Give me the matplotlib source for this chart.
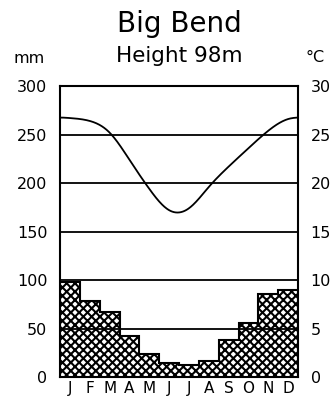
import numpy as np
import matplotlib
matplotlib.use("Agg")
import matplotlib.pyplot as plt

months = ["J", "F", "M", "A", "M", "J", "J", "A", "S", "O", "N", "D"]
precip_mm = [98, 78, 67, 42, 24, 14, 12, 17, 38, 56, 86, 90]
temp_c = [26.7, 26.4, 25.2, 22.4, 19.4, 17.2, 17.4, 19.6, 21.7, 23.6, 25.4, 26.6]
left_ticks = [0, 50, 100, 150, 200, 250, 300]
right_ticks = [0, 5, 10, 15, 20, 25, 30]
title = "Big Bend"
subtitle = "Height 98m"

plt.rcParams["font.family"] = ["DejaVu Sans"]
plt.rcParams["hatch.linewidth"] = 1.5

fig = plt.figure(figsize=(3.35, 4.03), dpi=100)
ax = fig.add_axes([0.179, 0.0645, 0.711, 0.722])

x = np.arange(12) + 0.5
edges = np.arange(13)
# precipitation as stepped, textured area
ax.stairs(precip_mm, edges, baseline=0, fill=True, facecolor="white",
          edgecolor="black", hatch="xxxx", linewidth=0, zorder=2)
ax.stairs(precip_mm, edges, baseline=0, fill=False, color="black",
          linewidth=1.5, zorder=3)

# gridlines
for v in left_ticks[1:-1]:
    ax.axhline(v, color="black", lw=1.3, zorder=4)

# periodic cubic spline through monthly temperatures (scaled 1 C = 10 mm)
def periodic_spline(xs, ys, xq, period):
    n = len(xs)
    h = period / n
    A = np.zeros((n, n))
    rhs = np.zeros(n)
    for i in range(n):
        A[i, (i - 1) % n] = h
        A[i, i] = 4 * h
        A[i, (i + 1) % n] = h
        rhs[i] = 6 * (ys[(i + 1) % n] - 2 * ys[i] + ys[(i - 1) % n]) / h
    M = np.linalg.solve(A, rhs)
    out = np.empty_like(xq)
    for k, xv in enumerate(xq):
        t = (xv - xs[0]) % period
        i = int(t // h) % n
        j = (i + 1) % n
        a = (t - i * h)
        b = h - a
        out[k] = (M[i] * b**3 / (6 * h) + M[j] * a**3 / (6 * h)
                  + (ys[i] / h - M[i] * h / 6) * b
                  + (ys[j] / h - M[j] * h / 6) * a)
    return out

tv = np.array(temp_c) * 10.0
xs_fine = np.linspace(0, 12, 400)
ax.plot(xs_fine, periodic_spline(x, tv, xs_fine, 12.0), color="black", lw=1.3, zorder=5)

ax.set_xlim(0, 12)
ax.set_ylim(0, 300)
ax.set_yticks(left_ticks)
ax.set_xticks(x)
ax.set_xticklabels(months, fontsize=11)
ax.tick_params(axis="y", length=0, pad=9, labelsize=11.5)
ax.tick_params(axis="x", length=0, pad=3)
for s in ax.spines.values():
    s.set_linewidth(1.5)

ax2 = ax.twinx()
ax2.set_ylim(0, 30)
ax2.set_yticks(right_ticks)
ax2.tick_params(axis="y", length=0, pad=9, labelsize=11.5)
for s in ax2.spines.values():
    s.set_visible(False)

fig.text(0.535, 0.94, title, ha="center", va="center", fontsize=20)
fig.text(0.535, 0.862, subtitle, ha="center", va="center", fontsize=15.5)
fig.text(0.087, 0.855, "mm", ha="center", va="center", fontsize=11.5)
fig.text(0.94, 0.858, "°C", ha="center", va="center", fontsize=11.5)

fig.savefig("out.png", dpi=100)
